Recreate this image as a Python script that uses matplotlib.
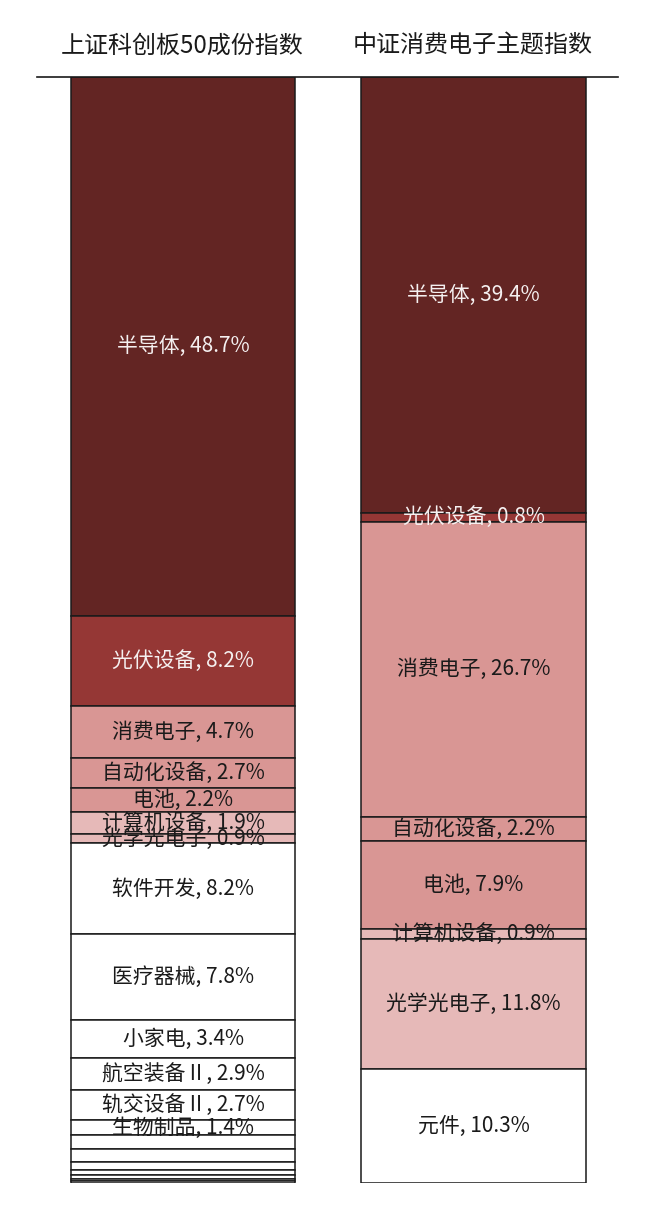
"""
堆叠柱状图：上证科创板50成份指数 vs 中证消费电子主题指数 行业权重
"""
import matplotlib.pyplot as plt

INDEX_NAMES = ["上证科创板50成份指数", "中证消费电子主题指数"]

# 从上到下的行业、权重(%)
KC50_SECTORS = ["半导体", "光伏设备", "消费电子", "自动化设备", "电池", "计算机设备",
                "光学光电子", "软件开发", "医疗器械", "小家电", "航空装备Ⅱ", "轨交设备Ⅱ",
                "生物制品", "", "", "", "", "", "", ""]
KC50_WEIGHTS = [48.7, 8.2, 4.7, 2.7, 2.2, 1.9, 0.9, 8.2, 7.8, 3.4, 2.9, 2.7,
                1.4, 1.2, 1.2, 0.7, 0.5, 0.3, 0.2, 0.2]

CE_SECTORS = ["半导体", "光伏设备", "消费电子", "自动化设备", "电池", "计算机设备",
              "光学光电子", "元件"]
CE_WEIGHTS = [39.4, 0.8, 26.7, 2.2, 7.9, 0.9, 11.8, 10.3]

SECTOR_COLORS = {
    "半导体": "#632523",
    "光伏设备": "#953735",
    "消费电子": "#d99694",
    "自动化设备": "#d99694",
    "电池": "#d99694",
    "计算机设备": "#e6b9b8",
    "光学光电子": "#e6b9b8",
}
DARK = {"半导体", "光伏设备"}


def plot(out_path="out.png"):
    plt.rcParams["font.family"] = ["Noto Sans CJK SC", "DejaVu Sans"]
    fig = plt.figure(figsize=(6.6, 12.3), dpi=100)
    ax = fig.add_axes([37 / 660, 1 - 1183 / 1230, 581 / 660, 1106 / 1230])

    width = 0.773
    for i, (sectors, weights) in enumerate([(KC50_SECTORS, KC50_WEIGHTS),
                                            (CE_SECTORS, CE_WEIGHTS)]):
        bottom = 0.0
        for name, w in zip(sectors, weights):
            color = SECTOR_COLORS.get(name, "white")
            ax.bar(i + 0.003, w, width, bottom=bottom, color=color,
                   edgecolor="#1a1a1a", linewidth=1.1)
            if name:
                tc = "#f5f0f0" if name in DARK else "#1a1a1a"
                ax.text(i + 0.003, bottom + w / 2, f"{name}, {w}%", ha="center",
                        va="center", fontsize=15, color=tc)
            bottom += w
        ax.text(i, -2.85, INDEX_NAMES[i], ha="center", va="center",
                fontsize=17.3, color="#1a1a1a")

    ax.set_xlim(-0.5, 1.5)
    ax.set_ylim(100, 0)
    for side in ["left", "right", "bottom"]:
        ax.spines[side].set_visible(False)
    ax.spines["top"].set_linewidth(1.2)
    ax.spines["top"].set_color("#1a1a1a")
    ax.set_xticks([])
    ax.set_yticks([])

    fig.savefig(out_path, dpi=100)
    plt.close(fig)


if __name__ == "__main__":
    plot()
